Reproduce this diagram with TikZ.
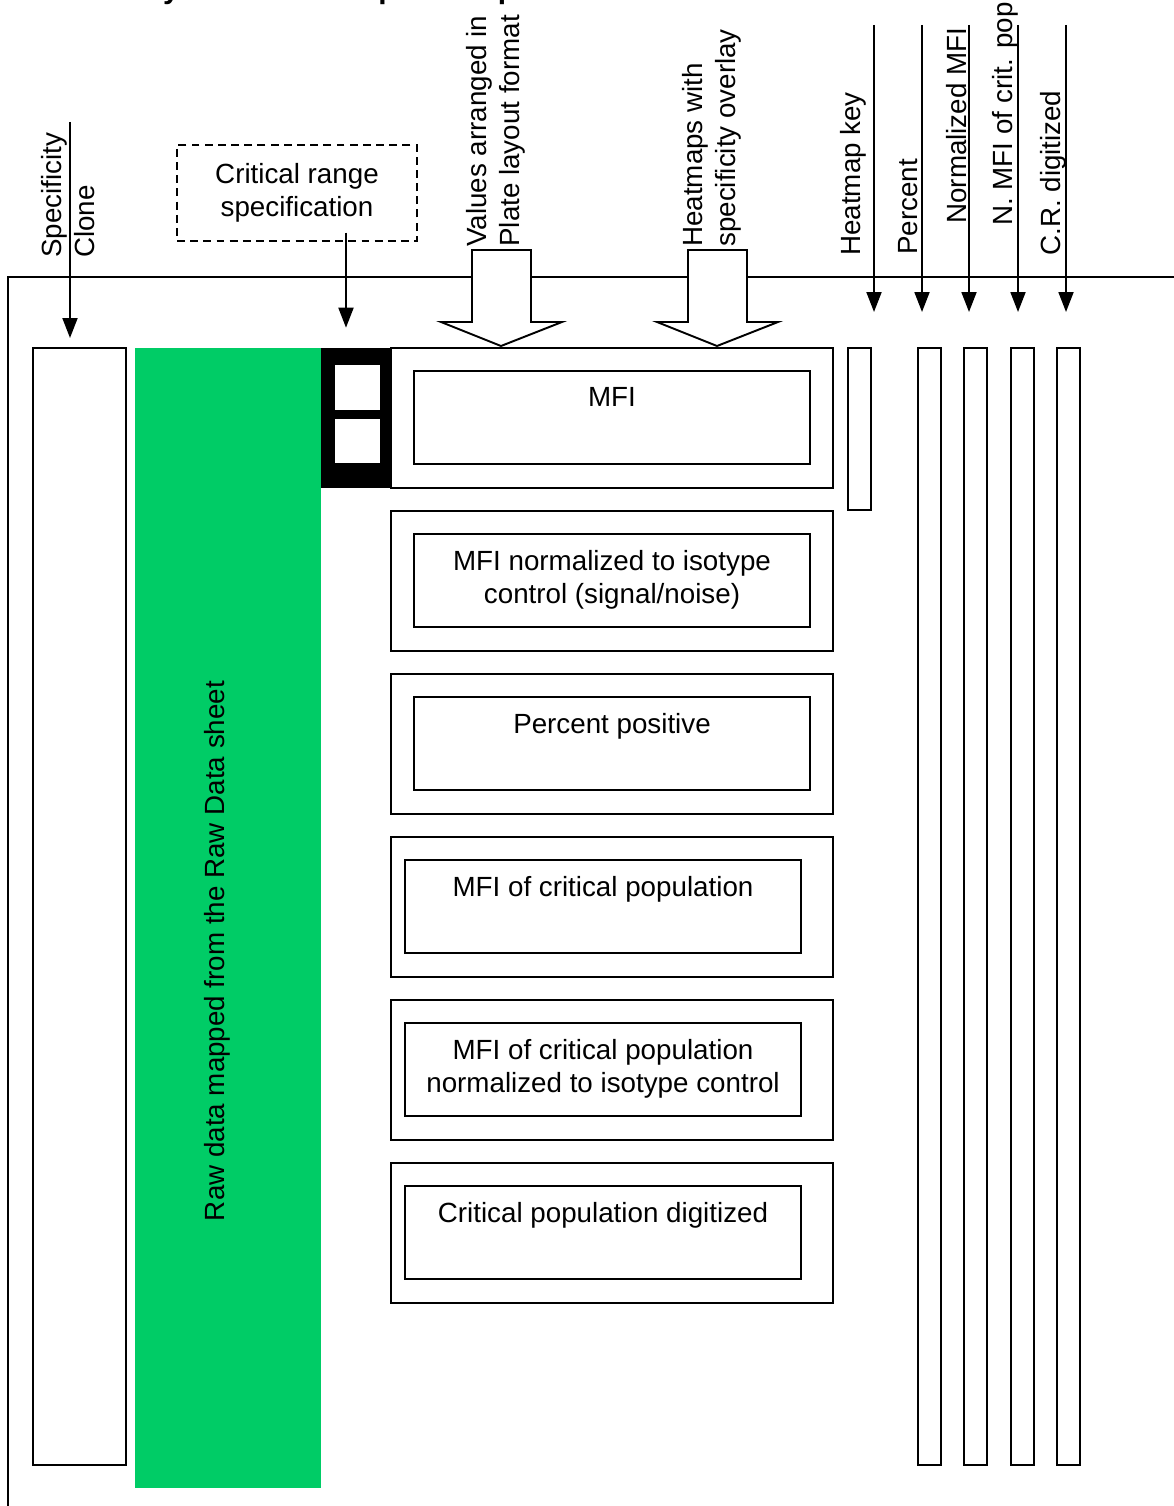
\documentclass[tikz,border=0pt]{standalone}
\usepackage{fontspec}
\setmainfont{Liberation Sans}
\usepackage{tikz}
\usetikzlibrary{arrows.meta,positioning}
\definecolor{rawgreen}{RGB}{0,204,102}
\tikzset{
  arr/.style={line width=1.1pt,-{Triangle[width=0.3cm,length=0.4cm]}},
  lbl/.style={rotate=90,anchor=west,inner sep=0pt,align=left,font=\fontsize{15.8}{18.5}\selectfont},
  col/.style={draw,line width=1.1pt,minimum width=0.46cm,minimum height=22.34cm,inner sep=0pt},
  panel/.style={draw,line width=1.1pt,minimum width=8.84cm,minimum height=2.8cm,inner sep=0pt},
  inbox/.style={draw,line width=1.1pt,minimum width=7.92cm,minimum height=1.86cm,inner sep=0pt},
  intext/.style={anchor=north,align=center,inner sep=0pt,yshift=-0.34cm,font=\fontsize{15.8}{18.5}\selectfont},
  blockarrow/.style={draw,fill=white,line width=1.1pt}
}
\begin{document}
\begin{tikzpicture}[x=0.02cm,y=-0.02cm,font=\fontsize{15.8}{18.5}\selectfont]
\useasboundingbox (0,0) rectangle (1173,1506);
\node[font=\bfseries\fontsize{17}{20}\selectfont,anchor=base west,inner sep=0pt] (title) at (98,-1) {Analysis Sheet Template Map};
\draw[line width=1.1pt] (8,1530) -- (8,277) -- (1200,277);

\node[col,minimum width=1.86cm] (clone) at (79.5,906.5) {};
\node[fill=rawgreen,minimum width=3.72cm,minimum height=22.8cm,inner sep=0pt] (raw) at (228,918) {};
\node[lbl,anchor=center] (rawtext) at (217,951) {Raw data mapped from the Raw Data sheet};
\node[fill=black,minimum width=1.38cm,minimum height=2.8cm,inner sep=0pt] (crblock) at (355.5,418) {};
\node[fill=white,minimum size=0.9cm,inner sep=0pt] (crlow) at (357.5,387.5) {};
\node[fill=white,minimum size=0.9cm,inner sep=0pt] (crhigh) at (357.5,441) {};

\node[panel] (p1) at (612,418) {};
\node[panel] (p2) at (612,581) {};
\node[panel] (p3) at (612,744) {};
\node[panel] (p4) at (612,907) {};
\node[panel] (p5) at (612,1070) {};
\node[panel] (p6) at (612,1233) {};
\node[inbox] (mfi) at (612,417.5) {};
\node[inbox] (nmfi) at (612,580.5) {};
\node[inbox] (pct) at (612,743.5) {};
\node[inbox] (mficrit) at (603,906.5) {};
\node[inbox] (nmficrit) at (603,1069.5) {};
\node[inbox] (digit) at (603,1232.5) {};
\node[intext] at (mfi.north) {MFI};
\node[intext] at (nmfi.north) {MFI normalized to isotype\\control (signal/noise)};
\node[intext] at (pct.north) {Percent positive};
\node[intext] at (mficrit.north) {MFI of critical population};
\node[intext] at (nmficrit.north) {MFI of critical population\\normalized to isotype control};
\node[intext] at (digit.north) {Critical population digitized};

\node[col,minimum height=3.24cm] (keycol) at (859.5,429) {};
\node[col] (pctcol) at (929.5,906.5) {};
\node[col] (nmficol) at (975.5,906.5) {};
\node[col] (ncritcol) at (1022.5,906.5) {};
\node[col] (crdcol) at (1068.5,906.5) {};

\draw[blockarrow] (472,250) -- (531,250) -- (531,322) -- (562,322) -- (501,346) -- (441,322) -- (472,322) -- cycle;
\draw[blockarrow] (688,250) -- (747,250) -- (747,322) -- (778,322) -- (717,346) -- (657,322) -- (688,322) -- cycle;
\node[lbl] (plate) at (496,247) {Values arranged in\\Plate layout format};
\node[lbl] (heat) at (712,247) {Heatmaps with\\specificity overlay};

\node[lbl] (spec) at (68,258) {Specificity\\Clone};
\coordinate (spectop) at (70,122);
\coordinate (spectip) at (70,338);
\draw[arr] (spectop) -- (spectip);

\node[draw,dash pattern=on 4.5pt off 3pt,line width=0.8pt,minimum width=4.8cm,minimum height=1.92cm,align=center] (crit) at (297,193) {Critical range\\specification};
\draw[arr] ([shift={(0.98cm,0.18cm)}]crit.south) -- ++(0,95);

\node[lbl] (keylbl) at (853,256) {Heatmap key};
\node[lbl] (pctlbl) at (908,255) {Percent};
\node[lbl] (nmfilbl) at (957,224) {Normalized MFI};
\node[lbl] (ncritlbl) at (1005,226) {N. MFI of crit. pop.};
\node[lbl] (crdlbl) at (1053,256) {C.R. digitized};
\foreach \nm/\xx in {key/874,pct/922,nmfi/969,ncrit/1018,crd/1066}{
  \coordinate (\nm top) at (\xx,25);
  \coordinate (\nm tip) at (\xx,312);
  \draw[arr] (\nm top) -- (\nm tip);
}
\end{tikzpicture}
\end{document}
